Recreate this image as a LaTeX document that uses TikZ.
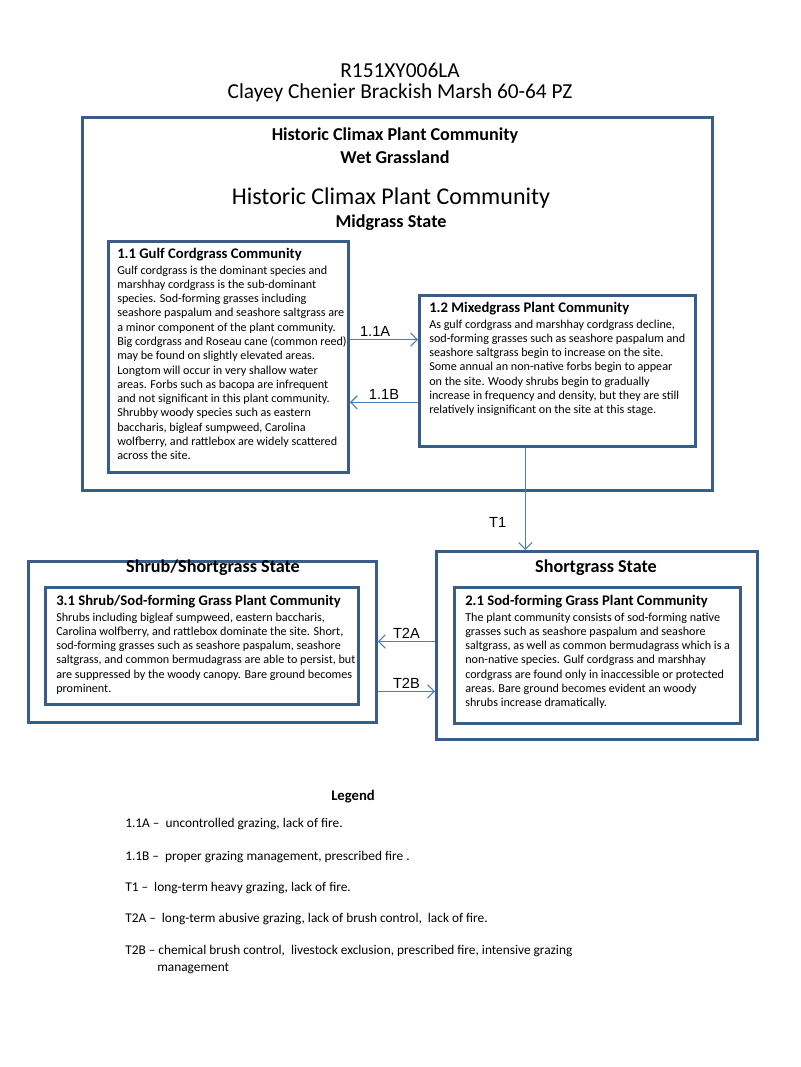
\documentclass[tikz,border=0pt]{standalone}
\usepackage{fontspec}
\setmainfont{Carlito}
\newfontfamily\arialfont{Liberation Sans}
\usetikzlibrary{arrows.meta}

\definecolor{boxblue}{HTML}{385D8A}
\definecolor{arrowblue}{HTML}{4A7EBB}

\begin{document}
\begin{tikzpicture}[x=0.75pt, y=-0.75pt]
    \tikzstyle{statebox} = [rectangle, draw=boxblue, line width=2.2pt, fill=white, anchor=north west, inner sep=0pt]
    \tikzstyle{commbox} = [rectangle, draw=boxblue, line width=2.2pt, fill=white, anchor=north west, inner sep=0pt]
    \tikzstyle{commtext} = [anchor=north west, align=left, inner sep=0pt, font=\fontsize{9.1}{10.7}\selectfont]
    \tikzstyle{head} = [inner sep=0pt, font=\bfseries\fontsize{13.6}{16}\selectfont]
    \tikzstyle{bigtitle} = [inner sep=0pt, font=\fontsize{16}{19}\selectfont]
    \tikzstyle{arrow} = [draw=arrowblue, line width=0.8pt, -{Straight Barb[length=5pt, width=10pt]}]
    \tikzstyle{translabel} = [font=\arialfont\fontsize{11}{13}\selectfont, inner sep=2pt]
    \tikzstyle{legenditem} = [anchor=west, inner sep=0pt, align=left, font=\fontsize{10}{12.75}\selectfont]

    \useasboundingbox (0,0) rectangle (800,1067);

    % Titles
    \node (title) [bigtitle] at (400,70) {R151XY006LA};
    \node (subtitle) [bigtitle] at (400,93) {Clayey Chenier Brackish Marsh 60-64 PZ};

    % Historic climax state
    \node (hcpc) [statebox, minimum width=472.5pt, minimum height=279.75pt] at (81,116) {};
    \node (hcpctitle) [head] at (395,136) {Historic Climax Plant Community};
    \node (wetgrass) [head] at (395,157) {Wet Grassland};
    \node (hcpcbig) [bigtitle, font=\fontsize{18}{22}\selectfont] at (391,198) {Historic Climax Plant Community};
    \node (midgrass) [head] at (391,223) {Midgrass State};

    \node (gulf) [commbox, minimum width=180pt, minimum height=173.25pt] at (107,240) {};
    \node (gulftext) [commtext] at (117,248) {{\bfseries\fontsize{11}{13}\selectfont 1.1 Gulf Cordgrass Community}\\[1pt]
        Gulf cordgrass is the dominant species and\\
        marshhay cordgrass is the sub-dominant\\
        species.  Sod-forming grasses including\\
        seashore paspalum and seashore saltgrass are\\
        a minor component of the plant community.\\
        Big cordgrass and Roseau cane (common reed)\\
        may be found on slightly elevated areas.\\
        Longtom will occur in very shallow water\\
        areas.  Forbs such as bacopa are infrequent\\
        and not significant in this plant community.\\
        Shrubby woody species such as eastern\\
        baccharis, bigleaf sumpweed, Carolina\\
        wolfberry, and rattlebox are widely scattered\\
        across the site.};

    \node (mixed) [commbox, minimum width=207pt, minimum height=113.25pt] at (418,294) {};
    \node (mixedtext) [commtext] at (429,302) {{\bfseries\fontsize{11}{13}\selectfont 1.2 Mixedgrass Plant Community}\\[1pt]
        As gulf cordgrass and marshhay cordgrass decline,\\
        sod-forming grasses such as seashore paspalum and\\
        seashore saltgrass begin to increase on the site.\\
        Some annual an non-native forbs begin to appear\\
        on the site.  Woody shrubs begin to gradually\\
        increase in frequency and density, but they are still\\
        relatively insignificant on the site at this stage.};

    % Shrub state
    \node (shrubstate) [statebox, minimum width=261pt, minimum height=120.75pt] at (27,560) {};
    \node (shrubtitle) [head] at (213,568) {Shrub/Shortgrass State};
    \node (shrubcomm) [commbox, minimum width=234.75pt, minimum height=87.75pt] at (44,586) {};
    \node (shrubtext) [commtext] at (56,595) {{\bfseries\fontsize{11}{13}\selectfont 3.1 Shrub/Sod-forming Grass Plant Community}\\[1pt]
        Shrubs including bigleaf sumpweed, eastern baccharis,\\
        Carolina wolfberry, and rattlebox dominate the site.  Short,\\
        sod-forming grasses such as seashore paspalum, seashore\\
        saltgrass, and common bermudagrass are able to persist, but\\
        are suppressed by the woody canopy.  Bare ground becomes\\
        prominent.};

    % Shortgrass state
    \node (shortstate) [statebox, minimum width=240.75pt, minimum height=141pt] at (435,550) {};
    \node (shorttitle) [head] at (596,568) {Shortgrass State};
    \node (sodcomm) [commbox, minimum width=214.5pt, minimum height=102pt] at (453,586) {};
    \node (sodtext) [commtext] at (465,595) {{\bfseries\fontsize{11}{13}\selectfont 2.1 Sod-forming Grass  Plant Community}\\[1pt]
        The plant community consists of sod-forming native\\
        grasses such  as seashore paspalum and seashore\\
        saltgrass, as well as common bermudagrass which is a\\
        non-native species.  Gulf cordgrass and marshhay\\
        cordgrass are found only in inaccessible or protected\\
        areas.  Bare ground becomes evident an woody\\
        shrubs increase dramatically.};

    % Arrows
    \draw [arrow] ([yshift=13pt]gulf.east) -- node[translabel, above, pos=0.37] {1.1A} ([yshift=13pt]gulf.east -| mixed.west);
    \draw [arrow] ([yshift=-34pt]gulf.east -| mixed.west) -- node[translabel, above] {1.1B} ([yshift=-34pt]gulf.east);
    \draw [arrow] ([xshift=-24pt]mixed.south) -- node[translabel, pos=0.73, left=12pt] {T1} ([xshift=-24pt]mixed.south |- shortstate.north);
    \draw [arrow] ([yshift=3pt]shortstate.west) -- node[translabel, above] {T2A} ([yshift=3pt]shortstate.west -| shrubstate.east);
    \draw [arrow] ([yshift=-34.5pt]shortstate.west -| shrubstate.east) -- node[translabel, above] {T2B} ([yshift=-34.5pt]shortstate.west);

    % Legend
    \node (legend) [head, font=\bfseries\fontsize{11}{13}\selectfont] at (353,797) {Legend};
    \node (leg11a) [legenditem] at (125,824) {1.1A --\ \ uncontrolled grazing, lack of fire.};
    \node (leg11b) [legenditem] at (125,857) {1.1B --\ \ proper grazing management, prescribed fire .};
    \node (legt1) [legenditem] at (125,888) {T1 --\ \ long-term heavy grazing, lack of fire.};
    \node (legt2a) [legenditem] at (125,919) {T2A --\ \ long-term abusive grazing, lack of brush control,\ \ lack of fire.};
    \node (legt2b) [legenditem, anchor=base west] at (125,971) {T2B -- chemical brush control,\ \ livestock exclusion, prescribed fire, intensive grazing\\
        \hspace*{24pt}management};
\end{tikzpicture}
\end{document}
